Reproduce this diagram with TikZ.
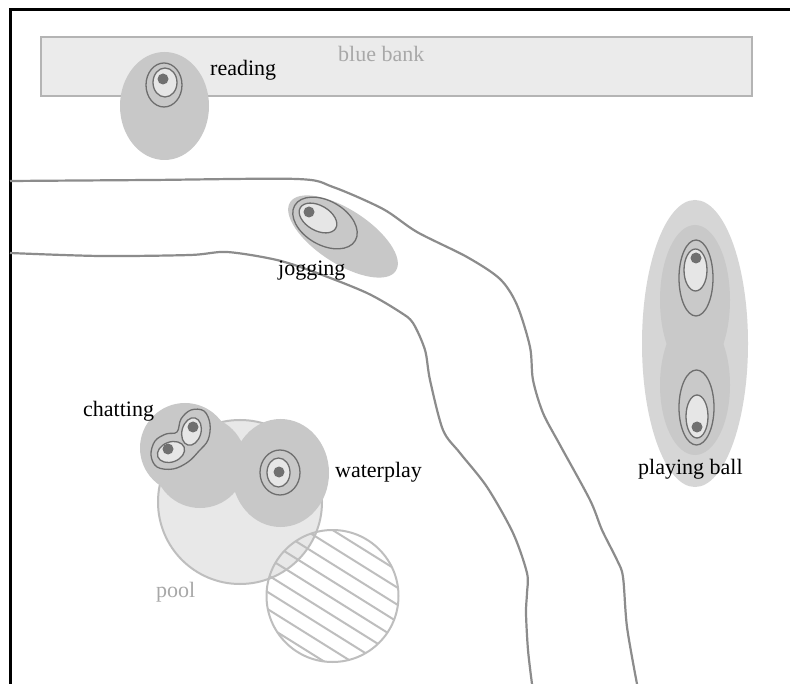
\documentclass[tikz,border=0pt]{standalone}
\usepackage{fontspec}
\setmainfont{Liberation Serif}
\usepackage{tikz}
\definecolor{bankfill}{HTML}{EBEBEB}
\definecolor{bankline}{HTML}{B4B4B4}
\definecolor{labelgray}{HTML}{A8A8A8}
\definecolor{roadgray}{HTML}{8C8C8C}
\definecolor{blobgray}{HTML}{C8C8C8}
\definecolor{ballgray}{HTML}{D6D6D6}
\definecolor{ringgray}{HTML}{6E6E6E}
\definecolor{coregray}{HTML}{E6E6E6}
\definecolor{dotgray}{HTML}{707070}
\definecolor{poolfill}{HTML}{E8E8E8}
\definecolor{poolline}{HTML}{BEBEBE}

\begin{document}
\begin{tikzpicture}[x=1pt, y=-1pt,
	lbl/.style={font=\fontsize{22}{26}\selectfont, inner sep=0, anchor=base west},
	faint/.style={lbl, text=labelgray},
	road/.style={draw=roadgray, line width=2.2},
	blob/.style={fill=blobgray},
	ring/.style={draw=ringgray, line width=1.3},
	core/.style={draw=ringgray, line width=1.3, fill=coregray},
	dot/.style={fill=dotgray}
]
\useasboundingbox (0,0) rectangle (790,684);
\fill[white] (0,0) rectangle (790,684);

% frame
\draw[line width=3] (790,9.5) -- (10,9.5) -- (10,684);

% bank
\draw[fill=bankfill, draw=bankline, line width=2] (41,37) rectangle (752,96);
\node[faint] (bank) at (338,62) {blue bank};

% reading
\fill[blob] (164.5,106) ellipse [x radius=44.5, y radius=54];
\draw[ring] (164,85) ellipse [x radius=18, y radius=22];
\draw[core] (165,82.5) ellipse [x radius=12, y radius=14.5];
\fill[dot] (163,79) circle (5.5);
\node[lbl] (reading) at (210,76) {reading};

% road
\draw[road] plot[smooth, tension=0.5] coordinates {(10,181) (150,180) (297,179) (333,187) (383,209) (417,232) (467,257) (500,279) (517,305) (530,347) (533,380) (543,413) (560,445) (590,500) (602,530) (617,560) (623,577) (627,627) (637,684)};
\draw[road] plot[smooth, tension=0.5] coordinates {(10,253) (100,256) (190,255) (227,252) (277,260) (317,273) (367,293) (400,312) (413,323) (425,350) (430,380) (443,430) (460,453) (487,487) (513,533) (527,573) (527,593) (526,613) (528,650) (532,684)};

% jogging
\fill[blob, rotate around={-33:(343,236.5)}] (343,236.5) ellipse [x radius=63, y radius=27];
\draw[ring, rotate around={-30:(325,223)}] (325,223) ellipse [x radius=35, y radius=22];
\draw[core, rotate around={-30:(318,218)}] (318,218) ellipse [x radius=20.5, y radius=12.5];
\fill[dot] (309,212) circle (5.5);
\node[lbl] (jogging) at (278,276) {jogging};

% playing ball
\fill[ballgray] (695,343.5) ellipse [x radius=53, y radius=143.5];
\fill[blobgray!90!ballgray] (695,300) ellipse [x radius=35, y radius=75];
\fill[blobgray!90!ballgray] (695,385) ellipse [x radius=35, y radius=70];
\draw[ring] (696,278) ellipse [x radius=17, y radius=38];
\draw[core] (695.5,270) ellipse [x radius=11.5, y radius=21];
\fill[dot] (696,258) circle (5.5);
\draw[ring] (696.5,407.5) ellipse [x radius=17.5, y radius=37.5];
\draw[core] (697,416.5) ellipse [x radius=11, y radius=21.5];
\fill[dot] (697,427) circle (5.5);
\node[lbl] (ball) at (638,474) {playing ball};

% pool
\draw[fill=poolfill, draw=poolline, line width=2] (240,502) circle (82);
\node[faint] (pool) at (156,597) {pool};

% chatting and waterplay
\fill[blob] (185,448) circle (45);
\fill[blob] (200,462) circle (46);
\fill[blob] (280.5,473) ellipse [x radius=48.5, y radius=54];
\draw[ring] plot[smooth cycle, tension=0.6] coordinates {(151,455) (155,441) (166,434) (177,432) (181,419) (191,410) (204,411) (210,424) (208,440) (199,451) (188,462) (173,469) (157,467)};
\draw[core, rotate around={20:(171,452)}] (171,452) ellipse [x radius=14, y radius=10];
\fill[dot] (168,449) circle (5.5);
\draw[core, rotate around={-15:(191.5,431.5)}] (191.5,431.5) ellipse [x radius=9.5, y radius=14];
\fill[dot] (193,427) circle (5.5);
\node[lbl] (chatting) at (83,417) {chatting};
\draw[ring] (280,472.5) ellipse [x radius=20, y radius=22.5];
\draw[core] (278.5,472.5) ellipse [x radius=11.5, y radius=14.5];
\fill[dot] (279,472) circle (5.5);
\node[lbl] (waterplay) at (335,478) {waterplay};

% hatched area
\begin{scope}
	\clip (332.5,596) circle (66);
	\begin{scope}[shift={(332.5,596)}, rotate=-32]
		\foreach \k in {-5,...,5}
			\draw[poolline, line width=2] (-90,\k*14.5+2) -- (90,\k*14.5+2);
	\end{scope}
\end{scope}
\draw[poolline, line width=2] (332.5,596) circle (66);
\end{tikzpicture}
\end{document}
